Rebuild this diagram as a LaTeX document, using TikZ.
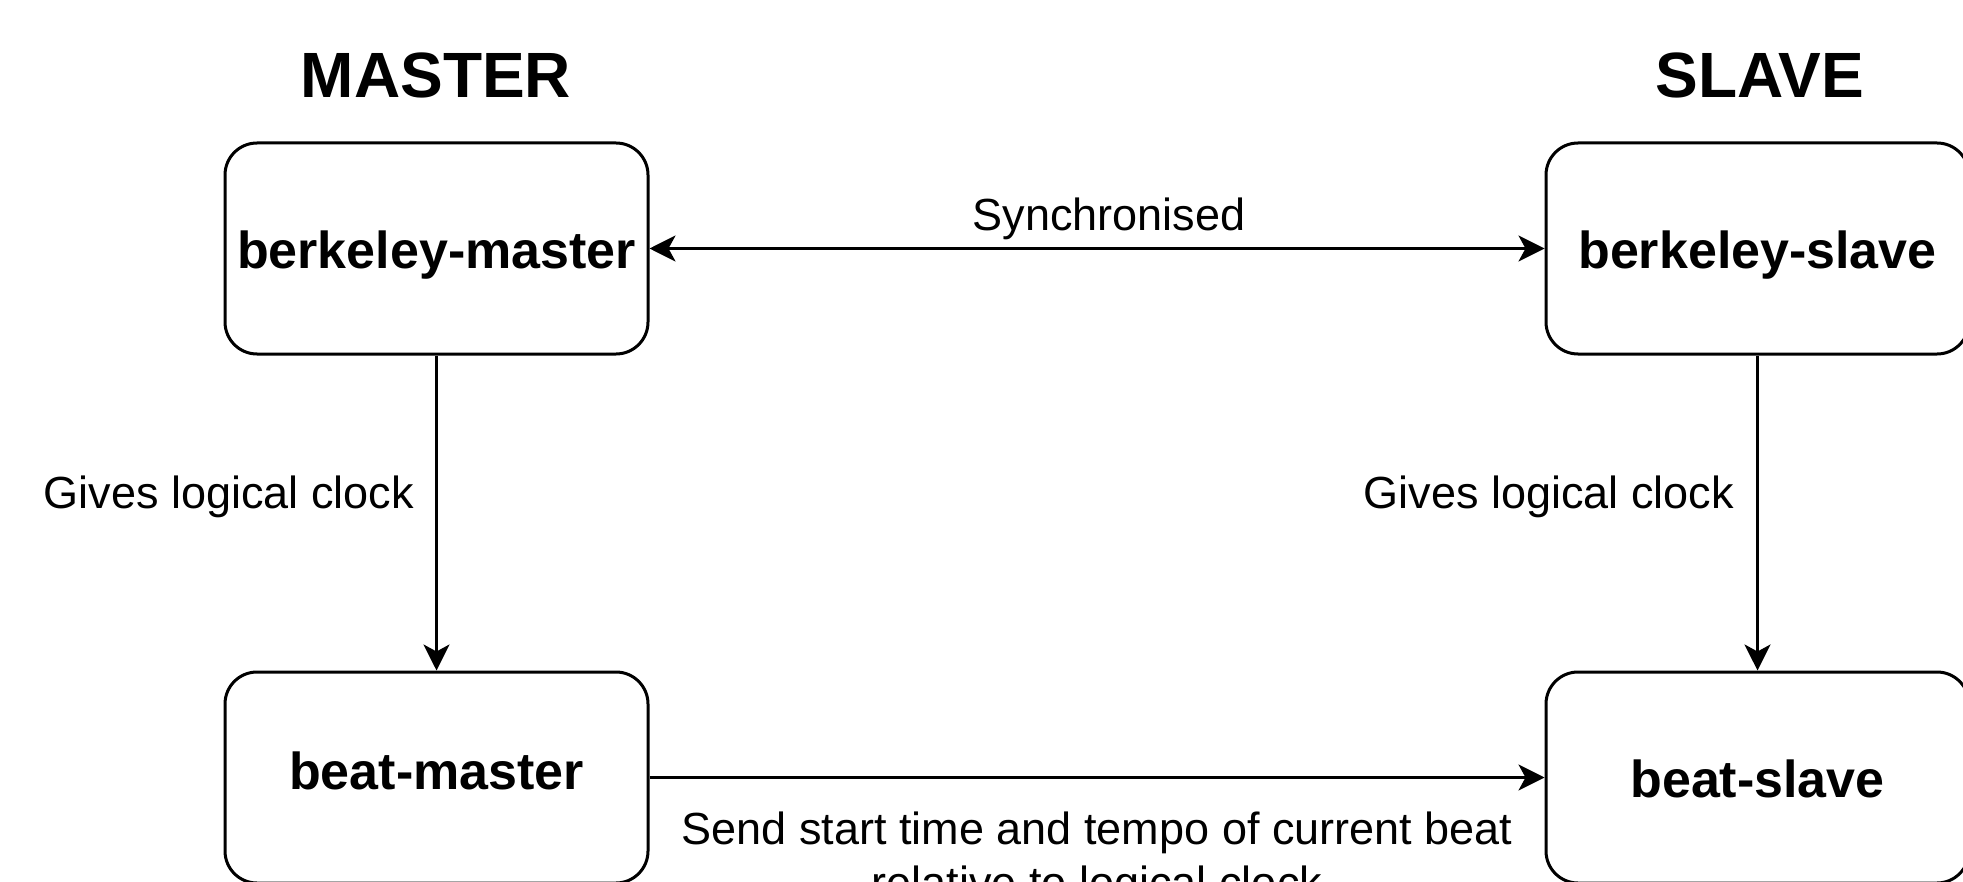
\documentclass[tikz,border=0pt]{standalone}
\usepackage{fontspec}
\setmainfont{Liberation Sans}
\usetikzlibrary{arrows.meta}
% box text placed by its baseline, given as a drop below the box centre
\newcommand{\boxtext}[2]{\raisebox{-#1}[0pt][0pt]{#2}}
\begin{document}
\begin{tikzpicture}[x=0.5pt,y=-0.5pt,
  comp/.style={draw, line width=1.5pt, rounded corners=16pt,
    minimum width=211.5pt, minimum height=105.5pt, inner sep=0pt,
    font=\fontsize{26}{31}\selectfont\bfseries},
  title/.style={anchor=base, inner sep=0pt, font=\fontsize{32}{38}\selectfont\bfseries},
  lbl/.style={inner sep=0pt, font=\fontsize{22.5}{27}\selectfont},
  conn/.style={line width=1.5pt, -{Stealth[length=13pt,width=13pt,inset=3.5pt]}},
  biconn/.style={line width=1.5pt, {Stealth[length=13pt,width=13pt,inset=3.5pt]}-{Stealth[length=13pt,width=13pt,inset=3.5pt]}}]
  \useasboundingbox (0,0) rectangle (1963,882);
  \clip (0,0) rectangle (1963,882);
  \fill[white] (0,0) rectangle (1963,882);

  % column headings
  \node[title] (tm) at (436,98) {MASTER};
  \node[title] (ts) at (1760,98) {SLAVE};

  % components
  \node[comp] (bkm) at (436.5,248.5) {\boxtext{9.75pt}{berkeley-master}};
  \node[comp] (bks) at (1757.5,248.5) {\boxtext{9.75pt}{berkeley-slave}};
  \node[comp] (btm) at (436.5,777.5) {\boxtext{5.75pt}{beat-master}};
  \node[comp] (bts) at (1757.5,777.5) {\boxtext{9.75pt}{beat-slave}};

  % connectors
  \draw[biconn] (bkm) -- (bks);
  \draw[conn] (bkm) -- (btm);
  \draw[conn] (bks) -- (bts);
  \draw[conn] (btm) -- (bts);

  % connector labels
  \node[lbl] (lsync) at (1109,219) {Synchronised};
  \node[lbl] (lgm) at (229,497) {Gives logical clock};
  \node[lbl] (lgs) at (1549,497) {Gives logical clock};
  \node[lbl, anchor=north, align=center] (lsend) at (1097,811)
    {Send start time and tempo of current beat\\relative to logical clock};
\end{tikzpicture}
\end{document}
